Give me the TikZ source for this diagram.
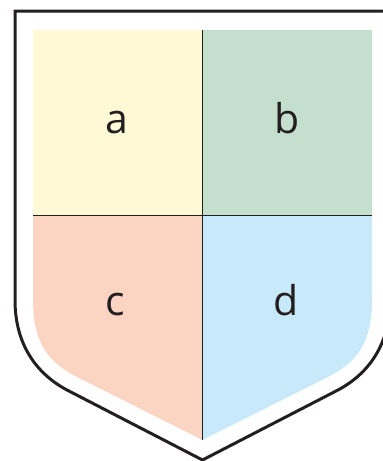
\documentclass[tikz,border=0pt]{standalone}
\usepackage{fontspec}
\setmainfont{Open Sans}
\definecolor{qa}{RGB}{255,250,213}
\definecolor{qb}{RGB}{197,223,207}
\definecolor{qc}{RGB}{252,212,194}
\definecolor{qd}{RGB}{200,233,249}
\definecolor{ink}{RGB}{35,31,32}
\tikzset{
  lbl/.style={font=\fontsize{41}{41}\selectfont, text=ink, inner sep=0pt, anchor=base},
  divider/.style={draw=ink, line width=1pt},
  rim/.style={draw=ink, line width=3pt, miter limit=20}
}
\begin{document}
\begin{tikzpicture}[x=1pt,y=-1pt]
\useasboundingbox (0,0) rectangle (383,461);
\clip (0,0) rectangle (383,461);
\def\inner{(33,30) -- (372,30) -- (372,300) .. controls (372,345) and (355,363) .. (328,377) -- (202.5,440) -- (77,377) .. controls (50,363) and (33,345) .. (33,300) -- cycle}
\begin{scope}
  \clip \inner;
  \fill[qa] (0,0) rectangle (202.5,215);
  \fill[qb] (202.5,0) rectangle (400,215);
  \fill[qc] (0,215) rectangle (202.5,470);
  \fill[qd] (202.5,215) rectangle (400,470);
\end{scope}
\coordinate (vt) at (202.5,30);
\coordinate (vb) at (202.5,440);
\coordinate (hl) at (33,215);
\coordinate (hr) at (372,215);
\draw[divider] (vt) -- (vb);
\draw[divider] (hl) -- (hr);
\draw[rim] (15,11) -- (390,11) -- (390,300) .. controls (390,345) and (368,374) .. (338,390) -- (202.5,460) -- (67,390) .. controls (37,374) and (15,345) .. (15,300) -- cycle;
\node[lbl] (a) at (117,133) {a};
\node[lbl] (b) at (287,133) {b};
\node[lbl] (c) at (115.5,315) {c};
\node[lbl] (d) at (286,315) {d};
\end{tikzpicture}
\end{document}
